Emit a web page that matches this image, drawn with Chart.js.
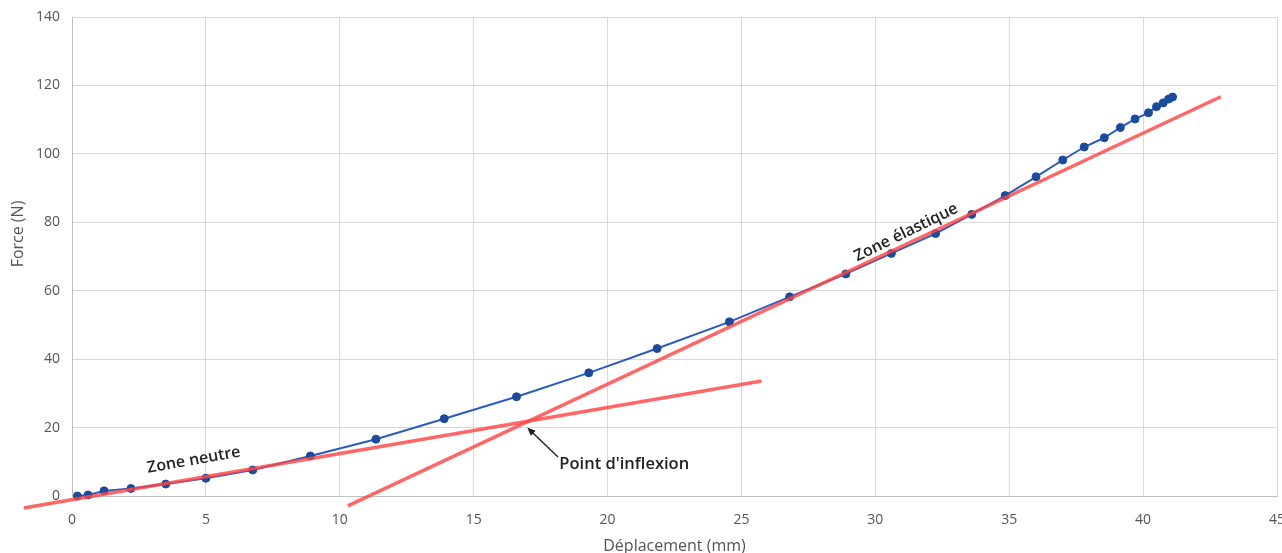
<!DOCTYPE html>
<html>
<head>
<meta charset="utf-8">
<script src="https://cdn.jsdelivr.net/npm/chart.js@4"></script>
<style>
  html, body { margin: 0; padding: 0; background: #ffffff; }
  #wrap { width: 1282px; height: 553px; position: relative; }
</style>
</head>
<body>
<div id="wrap"><canvas id="c" width="1282" height="553"></canvas></div>
<script>
// Measured data (Déplacement in mm, Force in N)
const deplacement = [0.2, 0.6, 1.2, 2.2, 3.5, 5.0, 6.75, 8.9, 11.35, 13.9, 16.6, 19.3, 21.85, 24.55, 26.8, 28.9, 30.6, 32.25, 33.6, 34.85, 36.0, 37.0, 37.8, 38.55, 39.15, 39.7, 40.2, 40.5, 40.75, 40.95, 41.1];
const force = [0.0, 0.3, 1.5, 2.2, 3.5, 5.2, 7.6, 11.7, 16.6, 22.6, 29.0, 36.0, 43.1, 50.9, 58.2, 64.9, 70.9, 76.7, 82.3, 87.8, 93.3, 98.2, 102.0, 104.7, 107.7, 110.2, 112.0, 113.8, 114.9, 116.0, 116.6];

// Tangent lines (end points)
const tangenteNeutreX = [-1.8, 25.75];
const tangenteNeutreY = [-3.5, 33.6];
const tangenteElastiqueX = [10.3, 42.9];
const tangenteElastiqueY = [-2.9, 116.7];

// Axis ticks
const xTicks = [0, 5, 10, 15, 20, 25, 30, 35, 40, 45];
const yTicks = [0, 20, 40, 60, 80, 100, 120, 140];

const xTitle = 'Déplacement (mm)';
const yTitle = 'Force (N)';
const labelNeutre = 'Zone neutre';
const labelElastique = 'Zone élastique';
const labelInflexion = "Point d'inflexion";

const toPts = (xs, ys) => xs.map((x, i) => ({ x: x, y: ys[i] }));

const tickFont = { family: 'Open Sans', size: 14 };
const tickColor = '#555555';

const annotationPlugin = {
  id: 'annotations',
  afterDatasetsDraw(chart) {
    const ctx = chart.ctx;
    const xs = chart.scales.x, ys = chart.scales.y;
    ctx.save();
    // Y axis title
    ctx.save();
    ctx.fillStyle = tickColor;
    ctx.font = '16px "Open Sans"';
    ctx.textAlign = 'center';
    ctx.textBaseline = 'middle';
    ctx.translate(18, 234);
    ctx.rotate(-Math.PI / 2);
    ctx.fillText(yTitle, 0, 0);
    ctx.restore();

    ctx.fillStyle = '#222222';
    ctx.font = '600 16px "Open Sans"';
    ctx.textAlign = 'center';
    ctx.textBaseline = 'middle';
    // Zone neutre
    ctx.save();
    ctx.translate(xs.getPixelForValue(4.55), ys.getPixelForValue(10.5));
    ctx.rotate(-10 * Math.PI / 180);
    ctx.fillText(labelNeutre, 0, 0);
    ctx.restore();
    // Zone élastique
    ctx.save();
    ctx.translate(xs.getPixelForValue(31.15), ys.getPixelForValue(77.0));
    ctx.rotate(-26 * Math.PI / 180);
    ctx.fillText(labelElastique, 0, 0);
    ctx.restore();
    // Point d'inflexion
    ctx.textAlign = 'left';
    ctx.font = '600 16.5px "Open Sans"';
    ctx.fillText(labelInflexion, xs.getPixelForValue(18.2), ys.getPixelForValue(9.4));
    // Arrow
    const x1 = xs.getPixelForValue(18.15), y1 = ys.getPixelForValue(11.4);
    const x2 = xs.getPixelForValue(17.0), y2 = ys.getPixelForValue(20.0);
    const ang = Math.atan2(y2 - y1, x2 - x1);
    ctx.strokeStyle = '#222222';
    ctx.lineWidth = 1.4;
    ctx.beginPath();
    ctx.moveTo(x1, y1);
    ctx.lineTo(x2 - 5 * Math.cos(ang), y2 - 5 * Math.sin(ang));
    ctx.stroke();
    ctx.beginPath();
    ctx.moveTo(x2, y2);
    ctx.lineTo(x2 - 9 * Math.cos(ang - 0.4), y2 - 9 * Math.sin(ang - 0.4));
    ctx.lineTo(x2 - 9 * Math.cos(ang + 0.4), y2 - 9 * Math.sin(ang + 0.4));
    ctx.closePath();
    ctx.fill();
    ctx.restore();
  }
};

const bgPlugin = {
  id: 'bg',
  beforeDraw(chart) {
    const ctx = chart.ctx;
    ctx.save();
    ctx.fillStyle = '#ffffff';
    ctx.fillRect(0, 0, chart.width, chart.height);
    ctx.restore();
  }
};

new Chart(document.getElementById('c'), {
  type: 'scatter',
  data: {
    datasets: [
      {
        label: 'Tangente élastique',
        data: toPts(tangenteElastiqueX, tangenteElastiqueY),
        showLine: true,
        borderColor: 'rgba(255, 70, 70, 0.82)',
        borderWidth: 3.5,
        pointRadius: 0,
        clip: false,
        order: 0
      },
      {
        label: 'Tangente neutre',
        data: toPts(tangenteNeutreX, tangenteNeutreY),
        showLine: true,
        borderColor: 'rgba(255, 70, 70, 0.82)',
        borderWidth: 3.5,
        pointRadius: 0,
        clip: false,
        order: 0
      },
      {
        label: 'Force',
        data: toPts(deplacement, force),
        showLine: true,
        borderColor: '#2a5bbf',
        borderWidth: 2,
        pointRadius: 4,
        pointBackgroundColor: '#1c4a9c',
        pointBorderColor: '#1c4a9c',
        pointBorderWidth: 1,
        clip: false,
        order: 1
      }
    ]
  },
  options: {
    responsive: false,
    animation: false,
    devicePixelRatio: 1,
    layout: { padding: { left: 0, right: 4, top: 17, bottom: 0 } },
    plugins: {
      legend: { display: false },
      tooltip: { enabled: false }
    },
    scales: {
      x: {
        type: 'linear',
        min: 0,
        max: 45,
        afterBuildTicks(scale) { scale.ticks = xTicks.map(v => ({ value: v })); },
        afterFit(scale) { scale.height = 57; scale.paddingLeft = 0; scale.paddingRight = 0; },
        ticks: { font: tickFont, color: tickColor, padding: 16, maxRotation: 0, autoSkip: false },
        grid: { color: '#d9d9d9', lineWidth: 1, drawTicks: false },
        border: { color: '#bfbfbf', width: 1 },
        title: { display: true, text: xTitle, font: { family: 'Open Sans', size: 16 }, color: tickColor, padding: { top: 0, bottom: -3 } }
      },
      y: {
        type: 'linear',
        min: 0,
        max: 140,
        afterBuildTicks(scale) { scale.ticks = yTicks.map(v => ({ value: v })); },
        afterFit(scale) { scale.width = 72; scale.paddingTop = 0; scale.paddingBottom = 0; },
        ticks: { font: tickFont, color: tickColor, padding: 12 },
        grid: { color: '#d9d9d9', lineWidth: 1, drawTicks: false },
        border: { color: '#bfbfbf', width: 1 },
        title: { display: false }
      }
    }
  },
  plugins: [bgPlugin, annotationPlugin]
});
</script>
</body>
</html>
